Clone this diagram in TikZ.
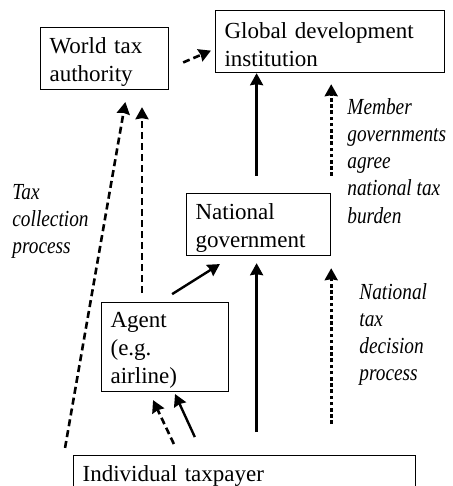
\documentclass[tikz,border=0pt]{standalone}
\usepackage{fontspec}
\setmainfont{Liberation Serif}
\newfontfamily\notefont[FakeStretch=0.84]{Liberation Serif}
\usetikzlibrary{arrows.meta, calc}

\begin{document}
\begin{tikzpicture}[x=0.5pt, y=-0.5pt, >={Stealth[length=6pt, width=6.5pt, inset=0.5pt]},
    font=\fontsize{11.5}{14}\selectfont,
    block/.style={draw, rectangle, line width=0.6pt, anchor=north west, align=left, inner xsep=4.5pt, inner ysep=0pt},
    lowtext/.style={execute at begin node={\rule{0pt}{11.3pt}}},
    note/.style={anchor=north west, align=left, inner sep=0pt, font=\fontsize{11.5}{13.6}\notefont\itshape},
    solidline/.style={->, line width=1.2pt},
    dashline/.style={->, line width=1.3pt, dash pattern=on 3.5pt off 2pt},
    dotline/.style={->, line width=1.3pt, dash pattern=on 1.8pt off 1.3pt}]

    \useasboundingbox (0,0) rectangle (452,486);

    % Institutions
    \node[block, lowtext, text width=55pt, minimum height=31pt] (world) at (40,27) {World tax\\authority};
    \node[block, lowtext, text width=105.5pt, minimum height=31pt] (global) at (215,10) {Global development\\institution};
    \node[block, lowtext, text width=63pt, minimum height=31pt] (natgov) at (186,193) {National\\government};
    \node[block, lowtext, text width=54.5pt, minimum height=44.5pt] (agent) at (101,302) {Agent\\(e.g.\\airline)};
    \node[block, text width=162pt, minimum height=20.5pt] (taxpayer) at (73,455) {Individual taxpayer};

    % Processus
    \node[note] (collect) at (12,184) {Tax\\collection\\process};
    \node[note] (agree) at (347,98) {Member\\governments\\agree\\national tax\\burden};
    \node[note] (decide) at (359,283) {National\\tax\\decision\\process};

    % Liens
    \draw[dashline, shorten <=7.6pt, shorten >=2.2pt] ($(world.east)+(0,9.8)$) -- ($(global.west)+(0,7.3)$);
    \draw[solidline, shorten <=8.5pt] ($(natgov.north)+(-2,0)$) -- ($(natgov.north |- global.south)+(-2,0)$);
    \draw[dotline, shorten <=8.5pt, shorten >=5.5pt] (natgov.north east) -- (natgov.north east |- global.south);
    \draw[dashline, shorten <=4.5pt, shorten >=8.5pt] ($(agent.north west)+(41,0)$) -- ($(agent.north west |- world.south)+(41,0)$);
    \draw[dashline, shorten <=3.6pt, shorten >=6pt] ($(taxpayer.north west)+(-9.2,0)$) -- ($(world.south west)+(87.4,0)$);
    \draw[solidline, shorten <=7.4pt, shorten >=7.4pt] ($(agent.north west)+(58.6,0)$) -- ($(natgov.south west)+(46.4,0)$);
    \draw[solidline, shorten <=11.5pt, shorten >=3.5pt] ($(natgov.south |- taxpayer.north)+(-2,0)$) -- ($(natgov.south)+(-2,0)$);
    \draw[dotline, shorten <=15.5pt, shorten >=6pt] (natgov.south east |- taxpayer.north) -- (natgov.south east);
    \draw[dashline, shorten <=6.1pt, shorten >=4.4pt] ($(taxpayer.north west)+(106.1,0)$) -- ($(agent.south west)+(48.3,0)$);
    \draw[solidline, shorten <=9.9pt, shorten >=1pt] ($(taxpayer.north west)+(130.1,0)$) -- ($(agent.south west)+(73.2,0)$);

\end{tikzpicture}
\end{document}
